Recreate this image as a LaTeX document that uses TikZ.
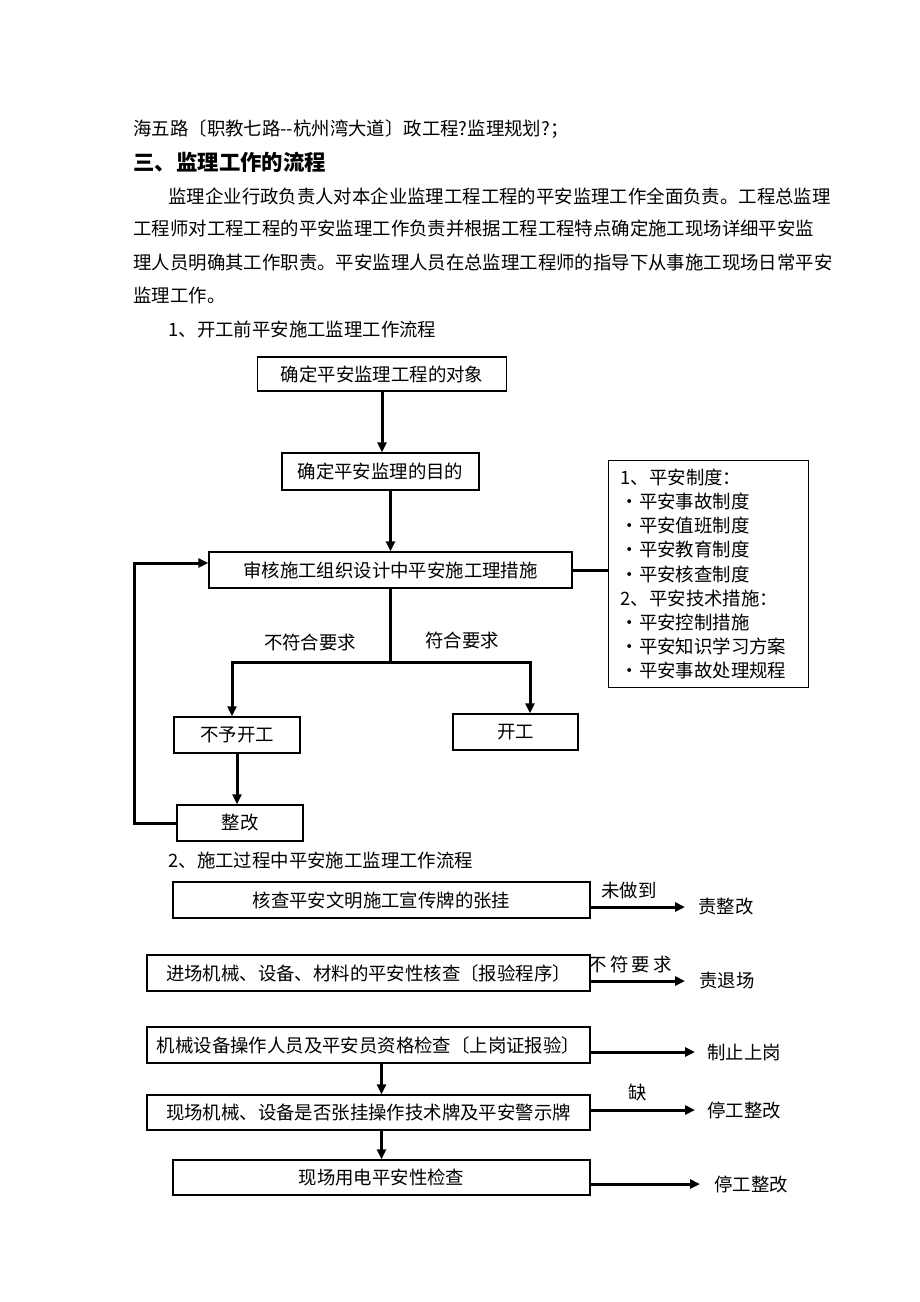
\documentclass[tikz,border=0pt]{standalone}
\usepackage{fontspec}
\setmainfont{Noto Sans CJK SC}
\usetikzlibrary{arrows.meta}

\tikzset{
  box/.style={draw, line width=0.65pt, minimum height=18pt, inner sep=2pt},
  line/.style={line width=1.5pt},
  arr/.style={line width=1.5pt, -{Triangle[length=5pt,width=4.5pt]}},
  txt/.style={inner sep=0pt, anchor=west},
  label/.style={inner sep=0pt},
}

\begin{document}
\begin{tikzpicture}[x=0.5pt, y=-0.5pt, font=\fontsize{9.2pt}{11pt}\selectfont]

\useasboundingbox[fill=white] (0,0) rectangle (920,1302);

\node[txt] (title) at (133,129) {海五路〔职教七路-{}-杭州湾大道〕政工程?监理规划?；};
\node[txt, font=\fontsize{10.7pt}{12pt}\selectfont\bfseries] (head) at (133,162) {三、监理工作的流程};
\node[txt] (par1) at (168,196) {监理企业行政负责人对本企业监理工程工程的平安监理工作全面负责。工程总监理};
\node[txt] (par2) at (133,229) {工程师对工程工程的平安监理工作负责并根据工程工程特点确定施工现场详细平安监};
\node[txt] (par3) at (133,263) {理人员明确其工作职责。平安监理人员在总监理工程师的指导下从事施工现场日常平安};
\node[txt] (par4) at (133,296) {监理工作。};

\node[txt] (sec1) at (168,329) {1、开工前平安施工监理工作流程};

\node[box, minimum width=124.5pt, minimum height=17pt] (obj) at (382,374) {确定平安监理工程的对象};
\node[box, minimum width=98.5pt, minimum height=18.5pt] (aim) at (380.5,471.5) {确定平安监理的目的};
\node[box, minimum width=181.5pt] (review) at (390.5,570) {审核施工组织设计中平安施工理措施};
\node[draw, line width=0.65pt, anchor=north west, align=left, text width=88pt,
      inner xsep=6pt, inner ysep=4pt, font=\fontsize{9.2pt}{12.1pt}\selectfont]
      (rules) at (608,460)
      {1、平安制度：\\
       •平安事故制度\\
       •平安值班制度\\
       •平安教育制度\\
       •平安核查制度\\
       2、平安技术措施：\\
       •平安控制措施\\
       •平安知识学习方案\\
       •平安事故处理规程};
\node[box, minimum width=63pt] (stop) at (237,735) {不予开工};
\node[box, minimum width=62.5pt] (start) at (515.5,732) {开工};
\node[box, minimum width=63pt] (fix) at (240,823) {整改};

\coordinate (sl) at (232,662);
\coordinate (sr) at (530,662);

\draw[arr] (obj.south) -- (obj.south |- aim.north);
\draw[arr] (review.north |- aim.south) -- (review.north);
\draw[line] (review.east) -- (review.east -| rules.west);
\draw[line] (review.south) -- (review.south |- sl);
\draw[line] ([xshift=-0.75pt]sl) -- ([xshift=0.75pt]sr);
\draw[arr] (sl) -- (sl |- stop.north);
\draw[arr] (sr) -- (sr |- start.north);
\draw[arr] (stop.south) -- (stop.south |- fix.north);
\draw[arr] (fix.west) -- ++(-42,0) |- ([yshift=3.5pt]review.west);

\node[label] (no) at (310,642) {不符合要求};
\node[label] (yes) at (462,640) {符合要求};

\node[txt] (sec2) at (168,860) {2、施工过程中平安施工监理工作流程};

\node[box, minimum width=208.5pt] (sign) at (381.5,900) {核查平安文明施工宣传牌的张挂};
\node[box, minimum width=221.5pt] (equip) at (368.5,973) {进场机械、设备、材料的平安性核查〔报验程序〕};
\node[box, minimum width=221.5pt] (staff) at (368.5,1045) {机械设备操作人员及平安员资格检查〔上岗证报验〕};
\node[box, minimum width=221.5pt, minimum height=17.5pt] (plate) at (368.5,1112.5) {现场机械、设备是否张挂操作技术牌及平安警示牌};
\node[box, minimum width=208.5pt, minimum height=17.5pt] (power) at (381.5,1177.5) {现场用电平安性检查};

\node[txt] (t1) at (698,907) {责整改};
\node[txt] (t2) at (699,981) {责退场};
\node[txt] (t3) at (707,1052) {制止上岗};
\node[txt] (t4) at (707,1110) {停工整改};
\node[txt] (t5) at (714,1184) {停工整改};

\draw[arr, shorten >=6.5pt] (sign.east |- t1.west) -- (t1.west);
\draw[arr, shorten >=7pt] (equip.east |- t2.west) -- (t2.west);
\draw[arr, shorten >=6pt] (staff.east |- t3.west) -- (t3.west);
\draw[arr, shorten >=6pt] (plate.east |- t4.west) -- (t4.west);
\draw[arr, shorten >=7pt] (power.east |- t5.west) -- (t5.west);
\draw[arr] (power.north |- staff.south) -- (power.north |- plate.north);
\draw[arr] (power.north |- plate.south) -- (power.north);

\node[label] (l1) at (629,891) {未做到};
\node[label] (l2) at (630,964) {不\,符\,要\,求};
\node[label] (l3) at (638,1092) {缺};

\end{tikzpicture}
\end{document}
